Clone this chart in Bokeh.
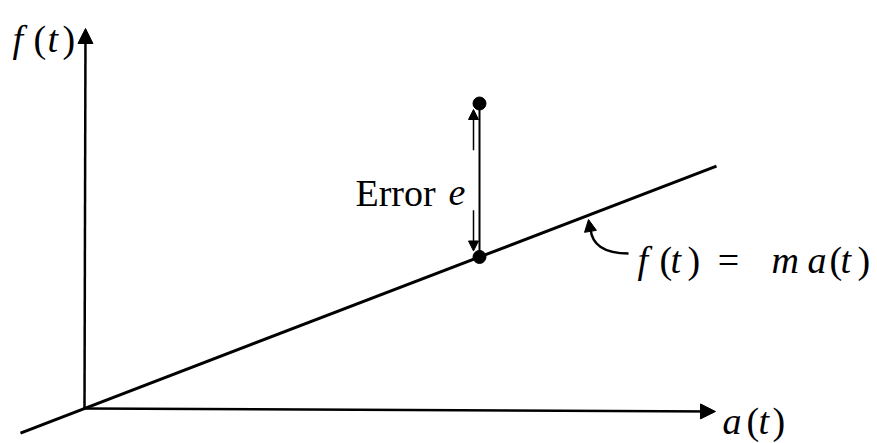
from bokeh.plotting import figure
from bokeh.models import Range1d, Arrow, NormalHead
from bokeh.core.properties import value
from bokeh.embed import file_html
from bokeh.resources import INLINE

# ---- data (model f = m a, one measured point) ----
m_slope = 0.3836
a_line = [-64, 632]
f_line = [m_slope * a for a in a_line]
a_obs = [395]
f_obs = [305]
f_fit = [m_slope * a for a in a_obs]

axis_x_end = 631
axis_y_end = 380

p = figure(width=877, height=443, output_backend="svg", toolbar_location=None,
           x_range=Range1d(-84, 793), y_range=Range1d(-35, 408),
           x_axis_location=None, y_axis_location=None, min_border=0)
p.grid.visible = False
p.outline_line_color = None
p.background_fill_color = "white"
p.border_fill_color = "white"

# axes with arrows
p.add_layout(Arrow(end=NormalHead(size=15, fill_color="black", line_color="black"),
                   x_start=0, y_start=0, x_end=axis_x_end, y_end=-3,
                   line_width=2.5, line_color="black"))
p.add_layout(Arrow(end=NormalHead(size=15, fill_color="black", line_color="black"),
                   x_start=0, y_start=0, x_end=1, y_end=axis_y_end,
                   line_width=2.5, line_color="black"))

# fitted line
p.line(a_line, f_line, line_width=3, line_color="black")

# error segment and points
p.segment(x0=a_obs, y0=f_fit, x1=a_obs, y1=f_obs, line_width=2, line_color="black")
p.scatter(a_obs + a_obs, f_obs + f_fit, size=13, color="black")

ax = a_obs[0] - 6
mid = (f_obs[0] + f_fit[0]) / 2
p.add_layout(Arrow(end=NormalHead(size=10, fill_color="black", line_color="black"),
                   x_start=ax, y_start=mid + 30, x_end=ax, y_end=f_obs[0] - 6,
                   line_width=1.5, line_color="black"))
p.add_layout(Arrow(end=NormalHead(size=10, fill_color="black", line_color="black"),
                   x_start=ax, y_start=mid - 30, x_end=ax, y_end=f_fit[0] + 6,
                   line_width=1.5, line_color="black"))

# curved pointer to the line
p.quadratic(x0=[544], y0=[155], x1=[506], y1=[180], cx=[508], cy=[155],
            line_width=2.5, line_color="black")
p.add_layout(Arrow(end=NormalHead(size=12, fill_color="black", line_color="black"),
                   x_start=506, y_start=177, x_end=504, y_end=189,
                   line_width=2.5, line_color="black"))

font = value("Liberation Serif")
fs = "38px"

def label(xs, y, glyphs, italics, align="left"):
    it_x = [x for x, g, i in zip(xs, glyphs, italics) if i]
    it_t = [g for g, i in zip(glyphs, italics) if i]
    up_x = [x for x, g, i in zip(xs, glyphs, italics) if not i]
    up_t = [g for g, i in zip(glyphs, italics) if not i]
    if it_x:
        p.text(x=it_x, y=[y] * len(it_x), text=it_t, text_font=font,
               text_font_style="italic", text_font_size=fs,
               text_baseline="alphabetic", text_align=align, text_color="black")
    if up_x:
        p.text(x=up_x, y=[y] * len(up_x), text=up_t, text_font=font,
               text_font_size=fs, text_baseline="alphabetic", text_align=align,
               text_color="black")

# f(t) on the vertical axis
label([-72, -51, -37, -22], 370, ["f", "(", "t", ")"], [1, 0, 1, 0])
# a(t) on the horizontal axis
label([638, 662, 674, 688], -12, ["a", "(", "t", ")"], [1, 0, 1, 0])
# f(t) = m a(t)
label([553, 575, 586, 603, 687, 723, 745, 756, 773], 149,
      ["f", "(", "t", ")", "m", "a", "(", "t", ")"],
      [1, 0, 1, 0, 1, 1, 0, 1, 0])
label([644], 149, ["="], [0], align="center")
# Error e
p.text(x=[271], y=[216], text=["Error"], text_font=font,
       text_font_size="38px", text_baseline="alphabetic", text_align="left",
       text_color="black")
p.text(x=[364], y=[216], text=["e"], text_font=font, text_font_style="italic",
       text_font_size=fs, text_baseline="alphabetic", text_align="left",
       text_color="black")

open("out.html", "w").write(file_html(p, INLINE))
